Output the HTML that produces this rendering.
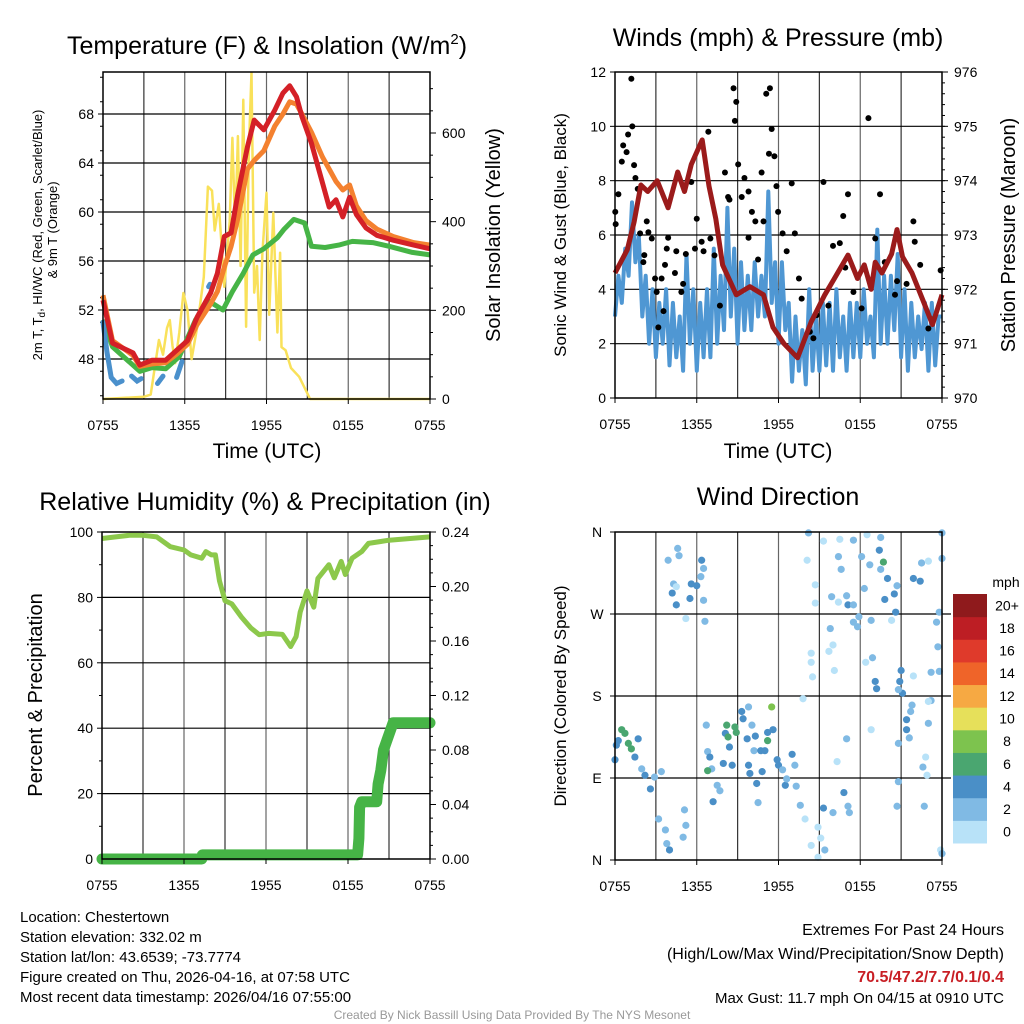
<!DOCTYPE html>
<html><head><meta charset="utf-8"><style>
html,body{margin:0;padding:0;background:#fff;}
svg{display:block;font-family:"Liberation Sans",sans-serif;}
</style></head><body>
<svg id="c" width="1024" height="1024" viewBox="0 0 1024 1024" xmlns="http://www.w3.org/2000/svg"></svg>
<script>
// ---------- DATA ----------
const timeTicks = ["0755","1355","1955","0155","0755"];
// Panel 1: temperature (hours since 0755, value °F)
const tempT = [0,0.7,2.2,2.7,3.6,4.6,5.4,6.2,6.9,7.9,8.4,8.9,9.4,9.9,10.6,11.1,11.8,12.6,13.2,13.7,14.2,14.6,15.3,16.1,16.6,17.1,17.6,18.1,18.6,19.3,20.1,21.3,22.8,24];
const tempRed = [52.8,49.3,48.5,47.5,47.9,47.9,48.7,49.5,51.4,53.4,55,58,58.3,61.5,65.3,67.5,66.7,68.3,69.7,70.3,69.4,67.8,65.6,62.4,60.4,61,59.6,61.2,59.8,58.7,58.1,57.7,57.3,57];
const tempOrange = [53.2,49.5,48.3,47.4,47.6,47.7,48.4,49.2,50.8,52.5,53.5,55.5,57.2,59.5,63.5,64.2,65,67,68,69,68.8,68,66.5,64.5,63.5,62.5,61.8,62.2,60.5,59.3,58.6,58,57.5,57.3];
const dewT = [0,0.7,2.7,3.6,4.6,5.6,6.8,7.8,8.8,9.5,10.3,11.0,11.8,12.8,13.3,14.0,14.8,15.3,16.3,17.3,18.3,19.8,21,22.7,24];
const dewGreen = [51.2,49,47,47.3,47.2,48.2,51.2,52.7,52,53.5,55,56.5,57,57.9,58.6,59.4,59.1,57.2,57.1,57.3,57.6,57.5,57.2,56.7,56.5];
const wcT = [0,0.3,0.6,1.0,1.4,null,2.1,2.5,2.8,null,4.0,4.4,null,5.4,5.8,null,7.75,7.85];
const wcBlue = [51,48.5,46.5,46,46.2,null,46.6,46.2,46.4,null,46,46.6,null,46.5,47.8,null,53.9,54.1];
const solarT = [0,3.0,3.5,4.1,4.4,4.7,4.9,5.1,5.3,5.6,5.9,6.2,6.5,6.9,7.4,7.7,8.0,8.2,8.5,8.9,9.3,9.5,9.7,9.9,10.1,10.3,10.5,10.7,10.9,11.1,11.3,11.5,11.7,12.0,12.2,12.5,12.8,13.0,13.1,13.4,13.8,14.4,15.2,24];
const solarW = [0,5,10,133,100,160,178,120,81,150,239,200,90,160,275,479,470,380,440,253,400,589,380,593,300,675,163,560,736,240,300,133,330,465,190,420,150,330,117,110,70,50,0,0];
// Panel 2: winds & pressure
const pressT = [0,0.9,1.4,1.9,2.4,3.1,3.9,4.6,5.1,5.6,6.4,6.9,7.4,7.9,8.9,9.9,10.9,11.6,12.4,13.4,14.4,15.4,16.1,17.1,17.8,18.3,18.8,19.1,19.6,20.3,20.7,21.1,21.8,22.6,23.3,24];
const pressMb = [972.3,972.73,973.24,973.92,973.8,974.0,973.5,974.16,973.8,974.3,974.75,973.9,973.3,972.45,971.9,972.05,971.9,971.3,971.0,970.74,971.4,971.9,972.2,972.63,972.2,972.45,972.0,972.5,972.3,972.65,973.1,972.6,972.3,971.8,971.35,971.9];
const windStep = 0.25;
const windMph = [3.0,4.5,3.5,5.5, 4.5,7.2,5.0,6.0, 3.0,4.5,2.0,4.0, 1.5,3.5,2.0,4.0, 1.2,3.5,1.5,3.0, 1.0,5.3,2.0,4.0, 1.0,3.5,1.5,4.0, 1.5,5.5,2.0,4.5, 2.5,7.0,3.0,5.5, 2.0,5.0,2.5,4.5, 2.5,5.0,3.0,4.5, 3.0,7.6,3.5,5.0, 2.0,5.0,2.5,3.5, 0.6,3.0,1.0,2.5, 0.5,4.0,1.0,3.0, 1.0,3.5,1.2,3.5, 1.0,4.0,1.5,3.0, 1.0,3.5,1.5,3.5, 1.5,4.0,2.0,3.0, 1.5,6.2,2.0,4.5, 2.0,4.5,2.5,5.3, 1.5,4.0,1.0,3.5, 1.5,3.0,1.8,3.5, 1.0,3.5,1.2,3.0, 3.0];
const gustT = [0.02,0.05,0.25,0.5,0.6,0.85,0.96,1.2,1.27,1.4,1.5,1.67,1.84,2.33,2.45,2.7,2.15,2.08,2.94,3.06,3.18,3.42,3.67,3.8,3.56,3.9,4.4,4.5,4.87,5,5.2,5.6,5.87,6.0,6.36,6.5,6.85,7.0,7.3,7.7,8.07,8.3,8.4,8.7,8.8,8.9,9.04,9.3,9.5,9.8,10.05,10.3,9.8,10.5,10.76,10.9,11.1,11.37,11.3,11.5,11.7,11.85,11.97,12.3,12.6,12.97,13.2,13.5,13.7,14.3,14.56,14.8,15.3,15.66,16.0,16.5,16.75,17.1,16.9,17.5,18.1,18.6,19.1,19.45,19.8,20.55,20.7,21.4,21.9,22,22.4,23.0,23.2,23.9];
const gustMph = [6.85,6.4,7.5,8.7,9.3,9.05,9.7,11.75,10,8.57,8.1,7.7,6.06,6.5,6.1,5.87,5.26,5.0,4.4,3.9,2.6,4.4,4.9,5.5,3.2,5.9,4.6,5.4,3.9,4.2,5.3,7.95,5.5,6.6,5.75,5.4,9.8,5.87,5.25,3.4,8.3,7.4,7.3,11.4,10.2,10.9,8.6,7.4,8.1,7.6,6.85,6.5,5.9,5.1,8.3,6.5,11.2,11.4,8.99,9.9,8.9,7.8,6.85,6.06,5.4,7.9,6.06,4.4,3.66,2.44,2.2,3.05,7.95,3.4,5.6,5.7,6.7,7.5,4.8,3.9,3.3,10.3,5.87,7.5,5.0,3.8,4.3,4.2,6.5,5.75,4.9,2.56,2.9,4.7];
// Panel 3: RH & precip
const rhT = [0,1,2,3,4,5,6,6.5,7.3,7.6,8,8.3,8.6,9,9.5,10.2,10.9,11.5,12.2,13.2,13.8,14.2,14.5,15,15.5,15.8,16.6,17,17.5,17.8,18.3,19,19.5,21,24];
const rhPct = [98,98.5,99,99,98.5,95.5,94.5,93,92,94,93,93,85,79,78,74,70.6,68.6,69,68.7,65,68,75.5,82,77,85.8,90,86,91,87,92,94,96.5,97.5,98.5];
const precipT = [0,7.3,7.35,18.7,18.8,18.85,19.0,20.1,20.2,20.4,20.6,21.3,24];
const precipIn = [0,0,0.003,0.003,0.015,0.038,0.042,0.042,0.055,0.065,0.08,0.1,0.1];
// Panel 4: wind direction
const dirT = [0,0.1,0.24,0.49,0.73,0.98,1.2,1.7,1.46,1.96,2.2,2.6,2.9,3.4,3.2,3.7,3.8,4.0,5.1,5.2,5.0,3.9,4.3,4.6,4.7,4.2,4.5,5.5,5.6,6.0,6.36,6.5,6.3,6.5,6.6,5.2,4.5,6.7,6.8,6.96,7.1,7.2,7.5,7.7,6.8,7.95,8.1,8.2,8.3,8.4,8.6,8.8,8.9,9.3,9.4,9.7,9.8,10.05,10.3,10.2,10.7,11.0,10.8,9.8,9.9,10.4,10.5,11.2,11.2,11.5,11.6,11.9,12.0,12.3,12.5,12.6,13.0,13.2,13.3,13.6,13.95,14.9,15.3,15.4,15.1,14.4,14.9,14.2,14.1,14.7,14.7,15.3,16.5,17.5,18.5,19.5,16.4,16.6,15.9,16.4,17.0,17.1,17.5,17.9,18.1,18.3,18.7,19.4,19.5,19.7,20.0,19.8,20.5,20.7,20.6,20.3,18.8,17.8,17.5,15.8,16.0,15.7,14.4,14.4,14.5,16.1,18.4,18.9,19.1,19.2,17.0,16.8,16.0,17.1,17.2,18.8,16.3,13.8,21.9,22.4,22.5,23.0,24.0,24.0,23.8,23.6,23.7,23.8,21.9,21.0,20.9,21.1,20.8,21.8,21.7,21.4,21.4,21.6,20.8,23.0,23.2,23.0,22.8,22.6,22.9,20.8,20.7,22.7,23.9,24.0,23.2];
const dirDeg = [110,126,131,143,139,128,122,133,113,100,93,78,91,97,45,33,18,11,55,38,25,329,303,342,334,293,280,287,303,301,329,320,311,285,262,265,300,148,119,113,100,64,82,76,98,106,139,148,135,124,104,146,140,163,155,133,168,148,136,120,120,120,97,104,95,84,63,140,131,168,143,110,104,99,82,89,116,104,81,60,45,36,57,11,24,16,3,359,329,302,282,350,352,351,357,354,333,319,289,283,290,280,280,267,333,298,324,340,319,327,309,286,292,301,272,263,263,256,261,254,236,229,227,217,201,208,217,222,196,188,133,74,52,59,52,143,108,177,309,306,326,328,359,331,272,261,234,207,202,208,196,183,187,170,163,154,143,134,128,150,175,174,113,102,93,86,59,59,11,7,206];
const dirSpd = [5,5,5,7,7,7,7,5,5,3,5,5,3,3,3,3,3,5,3,3,3,3,3,3,3,5,5,5,5,5,5,3,3,3,3,1,1,3,3,5,3,5,3,3,7,5,5,7,7,5,5,7,7,5,5,5,3,3,5,3,5,5,5,5,5,5,3,5,7,9,5,5,5,3,5,3,5,3,3,3,1,1,5,3,1,1,1,3,1,1,1,1,1,3,1,3,3,3,3,1,3,5,3,3,3,3,3,5,3,7,5,5,5,3,5,1,3,3,3,3,1,1,1,1,1,1,1,3,5,5,3,5,3,3,3,1,1,1,5,5,3,1,3,3,3,3,3,3,1,5,5,5,3,3,3,5,5,3,3,3,3,1,1,3,1,3,3,3,1,3,3];
const cbarLabels = ["0","2","4","6","8","10","12","14","16","18","20+"];
const cbarColors = ["#b8e2f8","#80bae4","#4a8fc7","#4aa670","#7dc34e","#e6e05a","#f6a943","#ef6429","#df3a2b","#bd1e24","#8f1a1c"];

// ---------- HELPERS ----------
const NS="http://www.w3.org/2000/svg";
const svg=document.getElementById('c');
function el(tag,attrs,parent){const e=document.createElementNS(NS,tag);for(const k in attrs)e.setAttribute(k,attrs[k]);(parent||svg).appendChild(e);return e;}
function txt(s,x,y,size,anchor,parent,extra){const e=el('text',Object.assign({x:x,y:y,'font-size':size,'text-anchor':anchor||'middle',fill:'#000'},extra||{}),parent);e.textContent=s;return e;}
function lin(d0,d1,p0,p1){return v=>p0+(v-d0)*(p1-p0)/(d1-d0);}
function pathFrom(xs,ys,sx,sy){let d='',pen=false;for(let i=0;i<xs.length;i++){if(xs[i]===null||ys[i]===null){pen=false;continue;}d+=(pen?'L':'M')+sx(xs[i]).toFixed(1)+','+sy(ys[i]).toFixed(1);pen=true;}return d;}
function frame(g,L,T,R,B){
  for(let i=1;i<8;i++){const x=L+(R-L)*i/8;const ln=el('line',{x1:x,y1:T,x2:x,y2:B,stroke:(i%2?'#333':'#666'),'stroke-width':1.2},g);
    
    }
}
function box(g,L,T,R,B){const r=el('rect',{x:L,y:T,width:R-L,height:B-T,fill:'none',stroke:'#000','stroke-width':1.5},g);
  
  }
function xTicks(g,L,R,B){timeTicks.forEach((s,i)=>{const x=L+(R-L)*i/4;el('line',{x1:x,y1:B,x2:x,y2:B+5,stroke:'#000'},g);const t=txt(s,x,B+31,14,'middle',g);
  
  });}

// ---------- PANEL 1 ----------
(function(){
const L=103,T=72,R=430,B=399;
const g=el('g',{});
const sx=lin(0,24,L,R), sy=lin(48,68,359,114), sw=lin(0,600,399,133);
frame(g,L,T,R,B);
[48,52,56,60,64,68].forEach(v=>{const y=sy(v);const gl=el('line',{x1:L,y1:y,x2:R,y2:y,stroke:'#000','stroke-width':1.2},g);
  el('line',{x1:L-5,y1:y,x2:L,y2:y,stroke:'#000'},g);const t=txt(String(v),L-9,y+5,14,'end',g);});
for(let v=45;v<72;v+=2){if(v%4)el('line',{x1:L-3,y1:sy(v),x2:L,y2:sy(v),stroke:'#000'},g);}
[0,200,400,600].forEach(v=>{const y=sw(v);el('line',{x1:R,y1:y,x2:R+6,y2:y,stroke:'#000'},g);const t=txt(String(v),R+12,y+5,14,'start',g);});
for(let v=50;v<750;v+=50){if(v%200)el('line',{x1:R,y1:sw(v),x2:R+3,y2:sw(v),stroke:'#000'},g);}
let p;
p=el('path',{d:pathFrom(solarT,solarW,sx,sw),fill:'none',stroke:'#f9e15a','stroke-width':2.5,'stroke-linejoin':'round'},g);
p=el('path',{d:pathFrom(dewT,dewGreen,sx,sy),fill:'none',stroke:'#46b446','stroke-width':5,'stroke-linejoin':'round'},g);
p=el('path',{d:pathFrom(wcT,wcBlue,sx,sy),fill:'none',stroke:'#4a90cc','stroke-width':5,'stroke-linecap':'round'},g);
p=el('path',{d:pathFrom(tempT,tempOrange,sx,sy),fill:'none',stroke:'#f4812f','stroke-width':5,'stroke-linejoin':'round'},g);
p=el('path',{d:pathFrom(tempT,tempRed,sx,sy),fill:'none',stroke:'#d42027','stroke-width':5,'stroke-linejoin':'round'},g);
box(g,L,T,R,B);xTicks(g,L,R,B);
let t=el('text',{x:267,y:54,'font-size':25,'text-anchor':'middle'},g);t.innerHTML='Temperature (F) &amp; Insolation (W/m<tspan dy="-10" font-size="15">2</tspan><tspan dy="10">)</tspan>';
t=txt('Time (UTC)',267,458,21,'middle',g);
t=el('text',{x:0,y:0,'font-size':13,'text-anchor':'middle',transform:'translate(42,235) rotate(-90)'},g);t.innerHTML='2m T, T<tspan dy="3" font-size="10">d</tspan><tspan dy="-3">, HI/WC (Red, Green, Scarlet/Blue)</tspan>';
t=txt('& 9m T (Orange)',0,0,13,'middle',g,{transform:'translate(57,230) rotate(-90)'});
t=txt('Solar Insolation (Yellow)',0,0,20,'middle',g,{transform:'translate(500,235) rotate(-90)'});
})();

// ---------- PANEL 2 ----------
(function(){
const L=615,T=72,R=942,B=398;
const g=el('g',{});
const sx=lin(0,24,L,R), sy=lin(0,12,B,T), sp=lin(970,976,B,T);
frame(g,L,T,R,B);
[0,2,4,6,8,10,12].forEach(v=>{const y=sy(v);if(v>0&&v<12){const gl=el('line',{x1:L,y1:y,x2:R,y2:y,stroke:'#000','stroke-width':1.2},g);}
  el('line',{x1:L-5,y1:y,x2:L,y2:y,stroke:'#000'},g);const t=txt(String(v),L-9,y+5,14,'end',g);});
[970,971,972,973,974,975,976].forEach(v=>{const y=sp(v);el('line',{x1:R,y1:y,x2:R+6,y2:y,stroke:'#000'},g);const t=txt(String(v),R+12,y+5,14,'start',g);});
for(let v=970.2;v<976;v+=0.2){el('line',{x1:R,y1:sp(v),x2:R+3,y2:sp(v),stroke:'#000'},g);}
const wt=windMph.map((v,i)=>i*windStep);
let p=el('path',{d:pathFrom(wt,windMph,sx,sy),fill:'none',stroke:'#4f97d3','stroke-width':4,'stroke-linejoin':'round'},g);
gustT.forEach((t,i)=>{const c=el('circle',{cx:sx(t),cy:sy(gustMph[i]),r:3,fill:'#000'},g);
  
  });
p=el('path',{d:pathFrom(pressT,pressMb,sx,sp),fill:'none',stroke:'#9b1b1b','stroke-width':5,'stroke-linejoin':'round'},g);
box(g,L,T,R,B);xTicks(g,L,R,B);
let t=txt('Winds (mph) & Pressure (mb)',778,46,25,'middle',g);
t=txt('Time (UTC)',778,458,21,'middle',g);
t=txt('Sonic Wind & Gust (Blue, Black)',0,0,17,'middle',g,{transform:'translate(566,235) rotate(-90)'});
t=txt('Station Pressure (Maroon)',0,0,20,'middle',g,{transform:'translate(1015,235) rotate(-90)'});
})();

// ---------- PANEL 3 ----------
(function(){
const L=102,T=532,R=430,B=859;
const g=el('g',{});
const sx=lin(0,24,L,R), sy=lin(0,100,B,T), sr=lin(0,0.24,B,T);
frame(g,L,T,R,B);
[0,20,40,60,80,100].forEach(v=>{const y=sy(v);if(v>0&&v<100){const gl=el('line',{x1:L,y1:y,x2:R,y2:y,stroke:'#000','stroke-width':1.2},g);}
  el('line',{x1:L-5,y1:y,x2:L,y2:y,stroke:'#000'},g);const t=txt(String(v),L-9,y+5,14,'end',g);});
for(let v=10;v<100;v+=20){el('line',{x1:L-3,y1:sy(v),x2:L,y2:sy(v),stroke:'#000'},g);}
[0,0.04,0.08,0.12,0.16,0.20,0.24].forEach(v=>{const y=sr(v);el('line',{x1:R,y1:y,x2:R+6,y2:y,stroke:'#000'},g);const t=txt(v.toFixed(2),R+12,y+5,14,'start',g);});
for(let v=0.01;v<0.24;v+=0.01){el('line',{x1:R,y1:sr(v),x2:R+3,y2:sr(v),stroke:'#000'},g);}
let p=el('path',{d:pathFrom(rhT,rhPct,sx,sy),fill:'none',stroke:'#8cc84b','stroke-width':5,'stroke-linejoin':'round'},g);
p=el('path',{d:pathFrom(precipT,precipIn,sx,sr),fill:'none',stroke:'#46b446','stroke-width':11,'stroke-linejoin':'round','stroke-linecap':'round'},g);
box(g,L,T,R,B);xTicks(g,L,R,B);
let t=txt('Relative Humidity (%) & Precipitation (in)',265,510,25,'middle',g);
t=txt('Percent & Precipitation',0,0,20,'middle',g,{transform:'translate(42,695) rotate(-90)'});
})();

// ---------- PANEL 4 ----------
(function(){
const L=615,T=532,R=942,B=860;
const g=el('g',{});
const sx=lin(0,24,L,R), sd=lin(0,360,B,T);
frame(g,L,T,R,B);
const dl=['N','E','S','W','N'];
[0,90,180,270,360].forEach((v,i)=>{const y=sd(v);if(i>0&&i<4){const gl=el('line',{x1:L,y1:y,x2:R+9,y2:y,stroke:'#000','stroke-width':1.2},g);}
  el('line',{x1:L-5,y1:y,x2:L,y2:y,stroke:'#000'},g);const t=txt(dl[i],L-18,y+5,14,'middle',g);});
dirT.forEach((t,i)=>{const ci=Math.min(10,Math.floor(dirSpd[i]/2));const c=el('circle',{cx:sx(t),cy:sd(dirDeg[i]),r:3.6,fill:cbarColors[ci]},g);
  
  });
box(g,L,T,R,B);xTicks(g,L,R,B);
let t=txt('Wind Direction',778,505,25,'middle',g);
t=txt('Direction (Colored By Speed)',0,0,17,'middle',g,{transform:'translate(566,696) rotate(-90)'});
const cb=el('g',{},g);
const cT=594,cH=249/11;
cbarColors.forEach((c,i)=>{const r=el('rect',{x:953,y:cT+(10-i)*cH,width:34,height:cH+0.5,fill:c},cb);});
cbarLabels.forEach((s,i)=>{const tt=txt(s,1007,cT+(10-i)*cH+cH/2+5,14,'middle',cb);});
t=txt('mph',1006,587,14,'middle',cb);
})();

// ---------- FOOTER TEXT ----------
(function(){
const g=el('g',{});
["Location: Chestertown","Station elevation: 332.02 m","Station lat/lon: 43.6539; -73.7774","Figure created on Thu, 2026-04-16, at 07:58 UTC","Most recent data timestamp: 2026/04/16 07:55:00"].forEach((s,i)=>{const t=txt(s,20,922+i*20,15,'start',g);});
const g2=el('g',{});
let t=txt('Extremes For Past 24 Hours',1004,935,16,'end',g2);
t=txt('(High/Low/Max Wind/Precipitation/Snow Depth)',1004,959,16,'end',g2);
t=txt('70.5/47.2/7.7/0.1/0.4',1004,982,16,'end',g2,{fill:'#c81e24','font-weight':'bold'});
t=txt('Max Gust: 11.7 mph On 04/15 at 0910 UTC',1004,1003,15,'end',g2);
t=txt('Created By Nick Bassill Using Data Provided By The NYS Mesonet',512,1019,12,'middle',svg,{fill:'#999'});
})();
</script>
</body></html>
